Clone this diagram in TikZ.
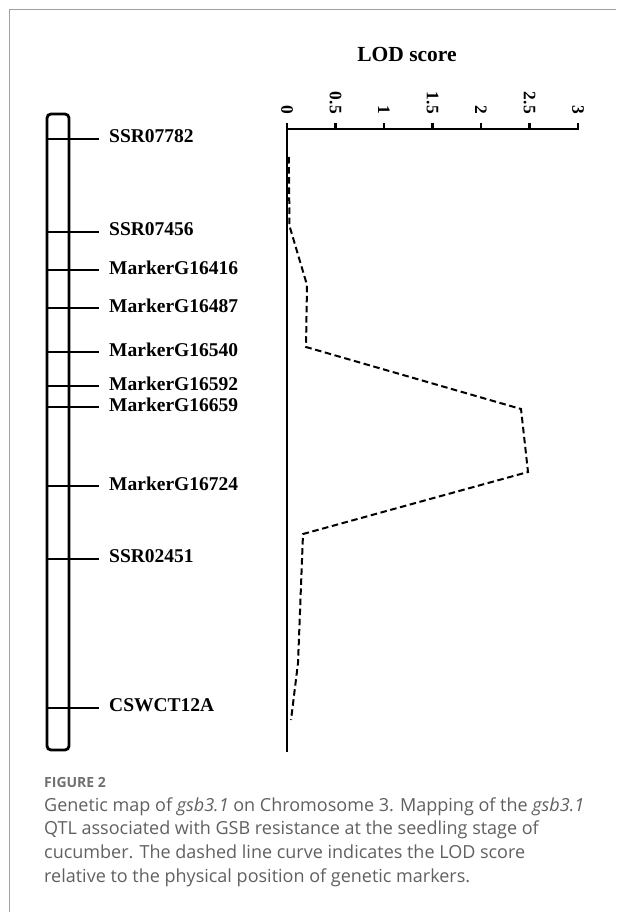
\documentclass[tikz,border=0pt]{standalone}
\usepackage{fontspec}
\setmainfont{Liberation Serif}
\newfontfamily\capfont{Open Sans}
\definecolor{capgray}{HTML}{606060}
\definecolor{framegray}{HTML}{A0A0A0}
\begin{document}
\begin{tikzpicture}[x=1pt,y=-1pt,
  frame/.style={draw=framegray,line width=1pt},
  chrom/.style={draw=black,line width=2.8pt,rounded corners=4pt},
  mline/.style={draw=black,line width=2pt},
  mlabel/.style={anchor=west,inner sep=0pt,font=\fontsize{19.5}{22}\selectfont\bfseries},
  axisline/.style={draw=black,line width=2.3pt},
  ticklab/.style={rotate=-90,anchor=east,inner sep=0pt,font=\fontsize{17.5}{19}\selectfont\bfseries},
  lod/.style={draw=black,line width=2pt,dash pattern=on 6.5pt off 3.6pt},
  caption/.style={anchor=base west,inner sep=0pt,text=capgray,font=\capfont\fontsize{18}{23.7}\selectfont},
]
\useasboundingbox (0,0) rectangle (616,912);
\draw[frame] (9,912) -- (9,10) -- (616,10);
% chromosome
\draw[chrom] (47,114) rectangle (69,750);
\foreach \y/\nm/\lab in {139/m1/SSR07782, 232/m2/SSR07456, 270/m3/MarkerG16416, 308/m4/MarkerG16487,
  352/m5/MarkerG16540, 386/m6/MarkerG16592, 407/m7/MarkerG16659, 486/m8/MarkerG16724,
  559/m9/SSR02451, 708/m10/CSWCT12A}{
  \coordinate (c\nm) at (47,\y);
  \node[mlabel] (\nm) at (109,\y-2.5) {\lab};
  \draw[mline] (c\nm) -- (99,\y);
}
% axis
\node[font=\fontsize{21.5}{24}\selectfont\bfseries,inner sep=0pt] (title) at (407,54) {LOD score};
\coordinate (o) at (287,129);
\draw[axisline] (287,752) -- (o) -- (578,129);
\foreach \i/\lab in {0/0,1/0.5,2/1,3/1.5,4/2,5/2.5,6/3}{
  \draw[axisline] (287+48.5*\i,130) -- (287+48.5*\i,123.5);
  \node[ticklab] (t\i) at (287+48.5*\i,114) {\lab};
}
% LOD curve
\draw[lod] (288.8,157) -- (289.5,226) -- (307,285) -- (306,347) -- (521,409) -- (528,472)
  -- (303,534) -- (298,663) -- (291,720);
% caption
\node[anchor=base west,inner sep=0pt,text=capgray!90,font=\capfont\bfseries\fontsize{14}{16}\selectfont] (fig) at (44,787) {FIGURE 2};
\node[caption] (cap1) at (44,811) {Genetic map of \textit{gsb3.1} on Chromosome 3. Mapping of the \textit{gsb3.1}};
\node[caption] (cap2) at (44,834.5) {QTL associated with GSB resistance at the seedling stage of};
\node[caption] (cap3) at (44,858) {cucumber. The dashed line curve indicates the LOD score};
\node[caption] (cap4) at (44,882) {relative to the physical position of genetic markers.};
\end{tikzpicture}
\end{document}
